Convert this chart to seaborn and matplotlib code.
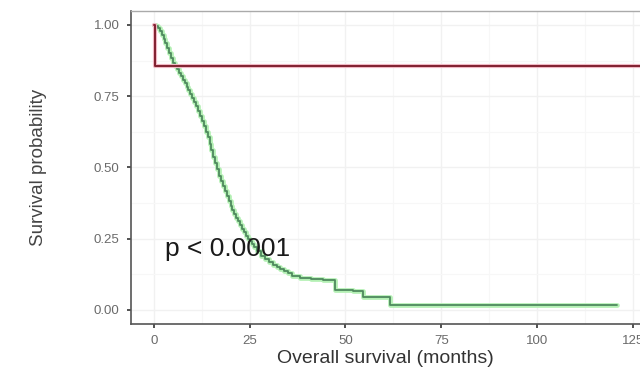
import pandas as pd
import matplotlib
matplotlib.use('Agg')
import matplotlib.pyplot as plt
import seaborn as sns

# Kaplan-Meier step values
red_time = [0, 0.3, 127]
red_surv = [1.0, 0.857, 0.857]

green_time = [0, 0.5, 1, 1.5, 2, 2.5, 3, 3.5, 4, 4.5, 5, 5.5, 6, 6.5, 7, 7.5, 8, 8.5, 9, 9.5,
              10, 10.5, 11, 11.5, 12, 12.5, 13, 13.5, 14, 14.5, 15, 15.5, 16, 16.5, 17, 17.5,
              18, 18.5, 19, 19.5, 20, 20.5, 21, 21.5, 22, 22.5, 23, 23.5, 24, 24.5, 25, 25.5,
              26, 27, 28, 29, 30, 31, 32, 33, 34, 35, 36, 38, 41, 44,
              47.3, 50, 52, 54.6, 58, 61.6, 121]
green_surv = [1.0, 0.995, 0.99, 0.98, 0.965, 0.95, 0.935, 0.918, 0.90, 0.883, 0.867, 0.856,
              0.845, 0.833, 0.82, 0.808, 0.795, 0.783, 0.77, 0.758, 0.745, 0.73, 0.715, 0.698,
              0.68, 0.663, 0.645, 0.625, 0.605, 0.583, 0.56, 0.538, 0.515, 0.493, 0.47, 0.452,
              0.435, 0.418, 0.40, 0.383, 0.365, 0.35, 0.335, 0.322, 0.31, 0.297, 0.285, 0.272,
              0.26, 0.25, 0.24, 0.23, 0.22, 0.205, 0.19, 0.178, 0.167, 0.158, 0.15, 0.142,
              0.135, 0.128, 0.118, 0.112, 0.108, 0.105,
              0.07, 0.068, 0.065, 0.046, 0.044, 0.016, 0.016]

x_ticks = [0, 25, 50, 75, 100, 125]
y_ticks = [0.0, 0.25, 0.5, 0.75, 1.0]
y_labels = ['0.00', '0.25', '0.50', '0.75', '1.00']

red = pd.DataFrame({'time': red_time, 'surv': red_surv})
green = pd.DataFrame({'time': green_time, 'surv': green_surv})

sns.set_theme(style='white')
plt.rcParams['font.family'] = ['Liberation Sans', 'DejaVu Sans']

fig = plt.figure(figsize=(6.4, 3.72), dpi=100)
ax = fig.add_axes([130.8 / 640, 48 / 372, 510 / 640, 313.3 / 372])

# faint grid like a washed-out theme_bw
for v in [-12.5, 12.5, 37.5, 62.5, 87.5, 112.5]:
    ax.axvline(v, color='#f7f7f7', lw=0.8, zorder=0)
for v in x_ticks:
    ax.axvline(v, color='#f1f1f1', lw=1.0, zorder=0)
for v in [0.125, 0.375, 0.625, 0.875]:
    ax.axhline(v, color='#f7f7f7', lw=0.8, zorder=0)
for v in y_ticks:
    ax.axhline(v, color='#f1f1f1', lw=1.0, zorder=0)

# green curve: halo + core
sns.lineplot(data=green, x='time', y='surv', drawstyle='steps-post', color='#b4f0b4',
             lw=3.4, ax=ax, estimator=None, sort=False)
sns.lineplot(data=green, x='time', y='surv', drawstyle='steps-post', color='#4f8a5e',
             lw=1.3, ax=ax, estimator=None, sort=False)
# red curve: halo + core
sns.lineplot(data=red, x='time', y='surv', drawstyle='steps-post', color='#f0b8c4',
             lw=3.0, ax=ax, estimator=None, sort=False)
sns.lineplot(data=red, x='time', y='surv', drawstyle='steps-post', color='#80202f',
             lw=1.4, ax=ax, estimator=None, sort=False)

ax.text(2.8, 0.215, 'p < 0.0001', fontsize=19, color='#1a1a1a', va='center', ha='left')

ax.set_xlim(-6.05, 127.1)
ax.set_ylim(-0.05, 1.05)
ax.set_xticks(x_ticks)
ax.set_xticklabels([str(v) for v in x_ticks])
ax.set_yticks(y_ticks)
ax.set_yticklabels(y_labels)
ax.tick_params(axis='both', labelsize=9.5, labelcolor='#6a6a6a', length=3, width=1.2,
               color='#333333', direction='out', bottom=True, left=True, pad=5)

ax.set_xlabel('Overall survival (months)', fontsize=14, color='#333333', labelpad=2)
ax.set_ylabel('Survival probability', fontsize=13.5, color='#444444', labelpad=34)

for side in ['left', 'bottom']:
    ax.spines[side].set_color('#555555')
    ax.spines[side].set_linewidth(1.2)
ax.spines['top'].set_color('#aaaaaa')
ax.spines['top'].set_linewidth(1.0)
ax.spines['right'].set_visible(False)

fig.savefig('out.png', dpi=100)
